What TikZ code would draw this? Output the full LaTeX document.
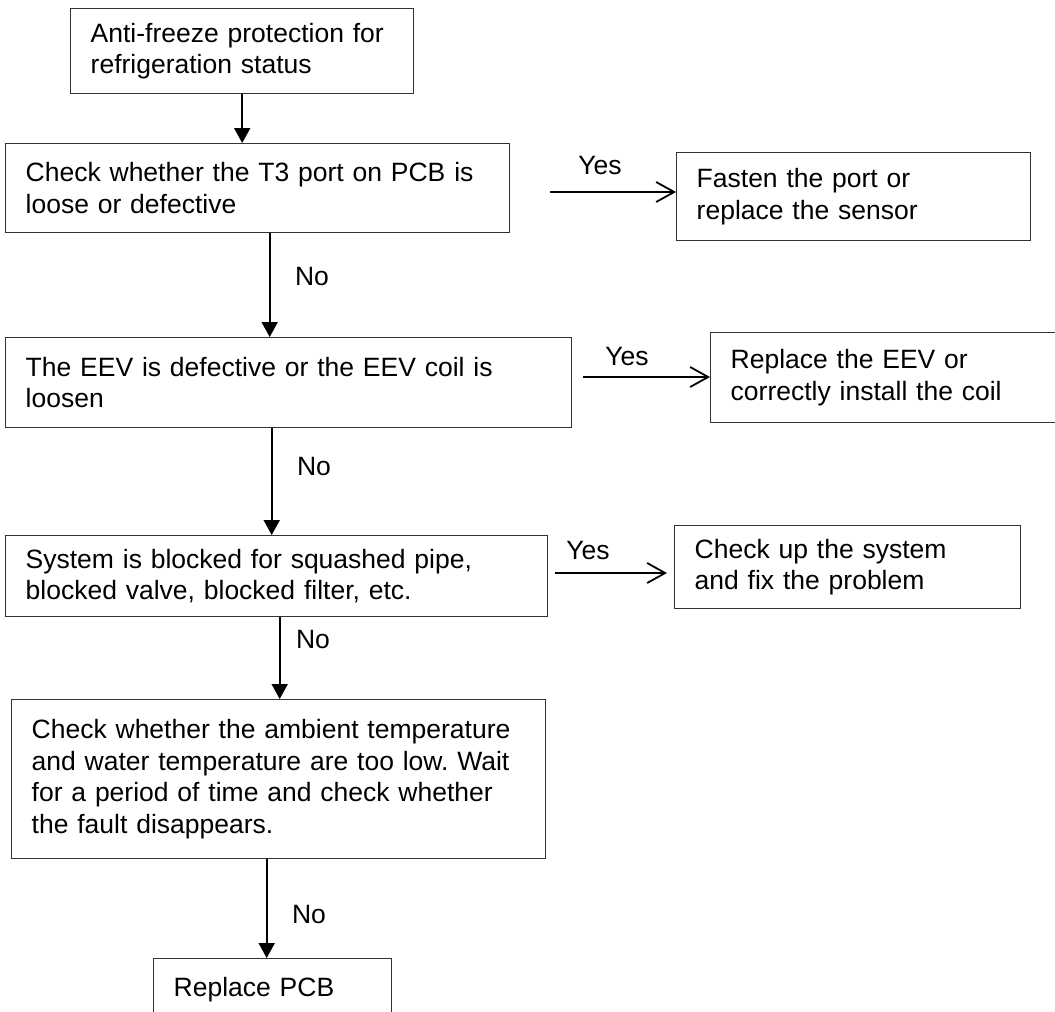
\documentclass[tikz,border=0pt]{standalone}
\usepackage{fontspec}
\setmainfont{Liberation Sans}
\usetikzlibrary{arrows.meta,calc}
\frenchspacing
\newcommand{\flowfont}{\fontsize{26.5}{31.5}\selectfont}
\tikzset{
  % Base styles
  flow base/.style={
    x=1pt, y=-1pt,
    every node/.style={font=\flowfont},
  },
  % Boxes
  flow box/.style={rectangle, draw=black!80, line width=1.4pt, anchor=north west,
    align=left, inner xsep=20pt, inner ysep=0pt},
  % Connectors
  no arrow/.style={line width=1.8pt, -{Triangle[length=15pt,width=16pt]}},
  yes arrow/.style={line width=1.8pt, -{Straight Barb[length=18pt,width=20pt,line width=1.8pt]}},
  % Edge labels
  edge label/.style={inner sep=0pt},
}

\begin{document}
\begin{tikzpicture}[flow base]
\useasboundingbox (0,0) rectangle (1055,1012);
\clip (0,0) rectangle (1055,1012);

% Main column
\node[flow box, text width=303, minimum height=85] (start) at (70,8)
  {Anti-freeze protection for\\refrigeration status};
\node[flow box, text width=464, minimum height=89] (port) at (5,143)
  {Check whether the T3 port on PCB is\\loose or defective};
\node[flow box, text width=526, minimum height=90] (eev) at (5,337)
  {The EEV is defective or the EEV coil is\\loosen};
\node[flow box, text width=502, minimum height=81] (blocked) at (5,535)
  {System is blocked for squashed pipe,\\blocked valve, blocked filter, etc.};
\node[flow box, text width=494, minimum height=159] (ambient) at (11,699)
  {Check whether the ambient temperature\\and water temperature are too low. Wait\\for a period of time and check whether\\the fault disappears.};
\node[flow box, text width=198, minimum height=62] (pcb) at (153,958)
  {Replace PCB};

% Side column
\node[flow box, text width=314, minimum height=88] (fasten) at (676,152)
  {Fasten the port or\\replace the sensor};
\node[flow box, text width=330, minimum height=90] (replace) at (710,332)
  {Replace the EEV or\\correctly install the coil};
\node[flow box, text width=306, minimum height=83] (fix) at (674,525)
  {Check up the system\\and fix the problem};

% No branches
\draw[no arrow] (start.south) -- (start.south |- port.north);
\draw[no arrow] ([xshift=12pt]port.south) -- ([xshift=12pt]port.south |- eev.north);
\draw[no arrow] ([xshift=-17pt]eev.south) -- ([xshift=-17pt]eev.south |- blocked.north);
\draw[no arrow] ([xshift=3pt]blocked.south) -- ([xshift=3pt]blocked.south |- ambient.north);
\draw[no arrow] ([xshift=-12pt]ambient.south) -- ([xshift=-12pt]ambient.south |- pcb.north);

\node[edge label] (no1) at (312,277) {No};
\node[edge label] (no2) at (314,467) {No};
\node[edge label] (no3) at (313,640) {No};
\node[edge label] (no4) at (309,915) {No};

% Yes branches
\coordinate (yes1) at (550,192);
\coordinate (yes2) at (583,377);
\coordinate (yes3) at (555,573);
\draw[yes arrow] (yes1) -- (yes1 -| fasten.west);
\draw[yes arrow] (yes2) -- (yes2 -| replace.west);
\draw[yes arrow, shorten >=7pt] (yes3) -- (yes3 -| fix.west);

\node[edge label] (yes1 label) at (600,166) {Yes};
\node[edge label] (yes2 label) at (627,357) {Yes};
\node[edge label] (yes3 label) at (588,551) {Yes};
\end{tikzpicture}
\end{document}
